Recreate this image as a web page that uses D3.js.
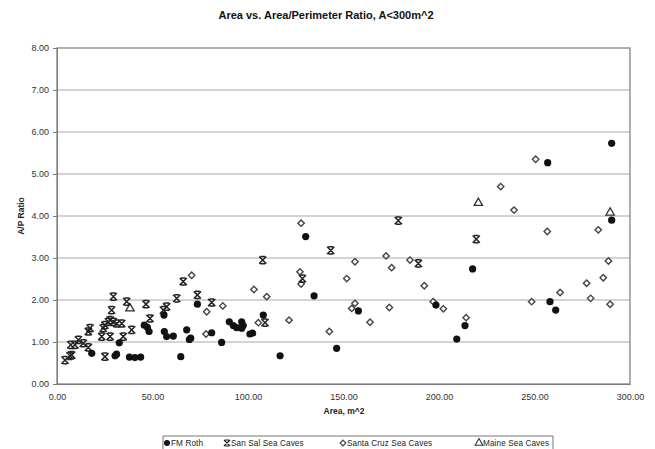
<!DOCTYPE html>
<html>
<head>
<meta charset="utf-8">
<script src="https://cdn.jsdelivr.net/npm/d3@7"></script>
<style>
  html, body { margin: 0; padding: 0; background: #fff; }
  svg { display: block; font-family: "Liberation Sans", Arial, sans-serif; }
</style>
</head>
<body>
<svg id="chart" width="655" height="449"></svg>
<script>
// Area (m^2) vs. area/perimeter ratio, four cave data sets
const fmRoth = [
  [18.2,0.73],[30.4,0.67],[31.2,0.71],[32.6,0.98],[37.9,0.64],[40.8,0.63],[43.8,0.64],
  [45.7,1.40],[47.3,1.35],[48.2,1.25],[56.0,1.64],[56.2,1.25],[57.4,1.13],[60.9,1.14],
  [64.8,0.65],[67.9,1.29],[69.3,1.06],[70.0,1.09],[73.5,1.90],[81.0,1.22],[86.2,0.99],
  [90.2,1.48],[92.3,1.39],[94.1,1.34],[96.7,1.48],[97.5,1.39],[96.7,1.33],[101.0,1.19],
  [102.4,1.21],[108.0,1.64],[116.8,0.67],[130.2,3.51],[134.6,2.10],[146.4,0.85],
  [157.8,1.74],[198.4,1.88],[209.3,1.07],[213.6,1.39],[217.6,2.74],[256.9,5.27],
  [258.1,1.96],[261.1,1.76],[290.4,5.73],[290.4,3.90]
];
const sanSal = [
  [4.2,0.57],[6.8,0.67],[7.7,0.69],[7.2,0.93],[9.4,0.93],[11.2,1.05],[13.8,0.97],
  [16.4,0.87],[16.4,1.25],[17.3,1.33],[23.4,1.13],[24.2,1.33],[25.1,0.65],[25.1,1.40],
  [26.9,1.48],[27.8,1.52],[27.8,1.13],[28.6,1.76],[29.5,2.08],[29.5,1.48],[31.3,1.44],
  [33.9,1.44],[34.7,1.13],[36.5,1.96],[39.1,1.29],[46.6,1.90],[48.7,1.56],[55.7,1.76],
  [57.4,1.84],[62.7,2.04],[66.1,2.44],[73.5,2.12],[81.0,1.94],[107.7,2.95],[108.9,1.46],
  [128.5,2.51],[143.3,3.18],[178.7,3.89],[189.2,2.87],[219.5,3.45]
];
const santaCruz = [
  [70.5,2.59],[78.0,1.19],[78.4,1.72],[86.8,1.86],[103.1,2.25],[105.4,1.46],[109.8,2.08],
  [121.5,1.52],[127.2,2.67],[127.8,3.83],[127.8,2.38],[142.6,1.25],[151.7,2.51],
  [154.3,1.80],[156.0,1.92],[156.0,2.91],[163.9,1.47],[172.3,3.05],[174.0,1.82],
  [175.2,2.77],[184.8,2.95],[192.3,2.34],[197.0,1.96],[202.3,1.79],[214.2,1.58],
  [232.3,4.70],[239.3,4.14],[248.5,1.96],[250.6,5.35],[256.7,3.63],[263.4,2.18],
  [277.3,2.40],[279.4,2.04],[283.4,3.67],[286.0,2.53],[288.7,2.93],[289.6,1.90]
];
const maine = [[38.2,1.80],[220.6,4.31],[289.6,4.08]];

const xTicks = [0, 50, 100, 150, 200, 250, 300];
const yTicks = [0, 1, 2, 3, 4, 5, 6, 7, 8];
const seriesNames = ["FM Roth", "San Sal Sea Caves", "Santa Cruz Sea Caves", "Maine Sea Caves"];

const svg = d3.select("#chart");
const plot = { left: 57, right: 630, top: 48, bottom: 384 };

const x = d3.scaleLinear().domain([0, 300]).range([plot.left, plot.right]);
const y = d3.scaleLinear().domain([0, 8]).range([plot.bottom, plot.top]);

// title
svg.append("text")
  .attr("x", 326).attr("y", 19)
  .attr("text-anchor", "middle")
  .attr("font-size", 11).attr("font-weight", "bold")
  .attr("fill", "#111")
  .text("Area vs. Area/Perimeter Ratio, A<300m^2");

// horizontal gridlines
svg.append("g")
  .selectAll("line")
  .data(yTicks.slice(1, -1))
  .join("line")
  .attr("x1", plot.left).attr("x2", plot.right)
  .attr("y1", d => y(d)).attr("y2", d => y(d))
  .attr("stroke", "#a8a8a8").attr("stroke-width", 1);

// plot frame
svg.append("rect")
  .attr("x", plot.left).attr("y", plot.top)
  .attr("width", plot.right - plot.left).attr("height", plot.bottom - plot.top)
  .attr("fill", "none").attr("stroke", "#7a7a7a").attr("stroke-width", 1.2);

// y axis
const yAxis = d3.axisLeft(y).tickValues(yTicks).tickFormat(d3.format(".2f")).tickSize(4).tickPadding(4);
const gy = svg.append("g").attr("transform", `translate(${plot.left},0)`).call(yAxis);
gy.select(".domain").attr("stroke", "#7a7a7a");
gy.selectAll(".tick line").attr("stroke", "#7a7a7a");
gy.selectAll("text").attr("font-size", 9).attr("fill", "#333").attr("font-family", "Liberation Sans, Arial, sans-serif");

// x axis
const xAxis = d3.axisBottom(x).tickValues(xTicks).tickFormat(d3.format(".2f")).tickSize(0).tickPadding(10);
const gx = svg.append("g").attr("transform", `translate(0,${plot.bottom})`).call(xAxis);
gx.select(".domain").attr("stroke", "#7a7a7a");
gx.selectAll("text").attr("font-size", 9).attr("fill", "#333").attr("font-family", "Liberation Sans, Arial, sans-serif");

// axis titles
svg.append("text")
  .attr("x", 344).attr("y", 414)
  .attr("text-anchor", "middle")
  .attr("font-size", 8.5).attr("font-weight", "bold").attr("fill", "#222")
  .text("Area, m^2");
svg.append("text")
  .attr("transform", "translate(24,216) rotate(-90)")
  .attr("text-anchor", "middle")
  .attr("font-size", 8.5).attr("font-weight", "bold").attr("fill", "#222")
  .text("A/P Ratio");

// marker shapes
function starPath(s) {
  const b = s * 0.65;
  return `M${-s},${-s}L${s},${s}M${s},${-s}L${-s},${s}` +
         `M${-b},${-s}L${b},${-s}M${-b},${s}L${b},${s}`;
}
function diamondPath(s) {
  return `M0,${-s}L${s},0L0,${s}L${-s},0Z`;
}
const triangle = d3.symbol().type(d3.symbolTriangle).size(30);

const marks = svg.append("g");

marks.append("g").selectAll("path")
  .data(santaCruz).join("path")
  .attr("transform", d => `translate(${x(d[0])},${y(d[1])})`)
  .attr("d", diamondPath(3.2))
  .attr("fill", "#fff").attr("stroke", "#444").attr("stroke-width", 1.4);

marks.append("g").selectAll("path")
  .data(maine).join("path")
  .attr("transform", d => `translate(${x(d[0])},${y(d[1])})`)
  .attr("d", triangle())
  .attr("fill", "#fff").attr("stroke", "#333").attr("stroke-width", 1.3);

marks.append("g").selectAll("path")
  .data(sanSal).join("path")
  .attr("transform", d => `translate(${x(d[0])},${y(d[1])})`)
  .attr("d", starPath(3.6))
  .attr("fill", "none").attr("stroke", "#222").attr("stroke-width", 1.5);

marks.append("g").selectAll("circle")
  .data(fmRoth).join("circle")
  .attr("cx", d => x(d[0])).attr("cy", d => y(d[1]))
  .attr("r", 3.6)
  .attr("fill", "#111");

// legend
const legend = svg.append("g");
legend.append("path")
  .attr("d", "M163,460V436H553V460")
  .attr("fill", "none").attr("stroke", "#777").attr("stroke-width", 1);

const legendX = [167, 227, 343, 479];
const ly = 443;
const items = legend.selectAll("g.item")
  .data(seriesNames).join("g")
  .attr("class", "item")
  .attr("transform", (d, i) => `translate(${legendX[i]},${ly})`);

items.each(function (d, i) {
  const g = d3.select(this);
  if (i === 0) g.append("circle").attr("r", 3).attr("fill", "#111");
  if (i === 1) g.append("path").attr("d", starPath(3)).attr("fill", "none").attr("stroke", "#222").attr("stroke-width", 1.2);
  if (i === 2) g.append("path").attr("d", diamondPath(2.8)).attr("fill", "#fff").attr("stroke", "#444").attr("stroke-width", 1.2);
  if (i === 3) g.append("path").attr("d", d3.symbol().type(d3.symbolTriangle).size(26)()).attr("fill", "#fff").attr("stroke", "#333").attr("stroke-width", 1.1);
  g.append("text")
    .attr("x", 4).attr("y", 3)
    .attr("font-size", 8.2).attr("fill", "#222")
    .attr("letter-spacing", 0.1)
    .text(d);
});
</script>
</body>
</html>
